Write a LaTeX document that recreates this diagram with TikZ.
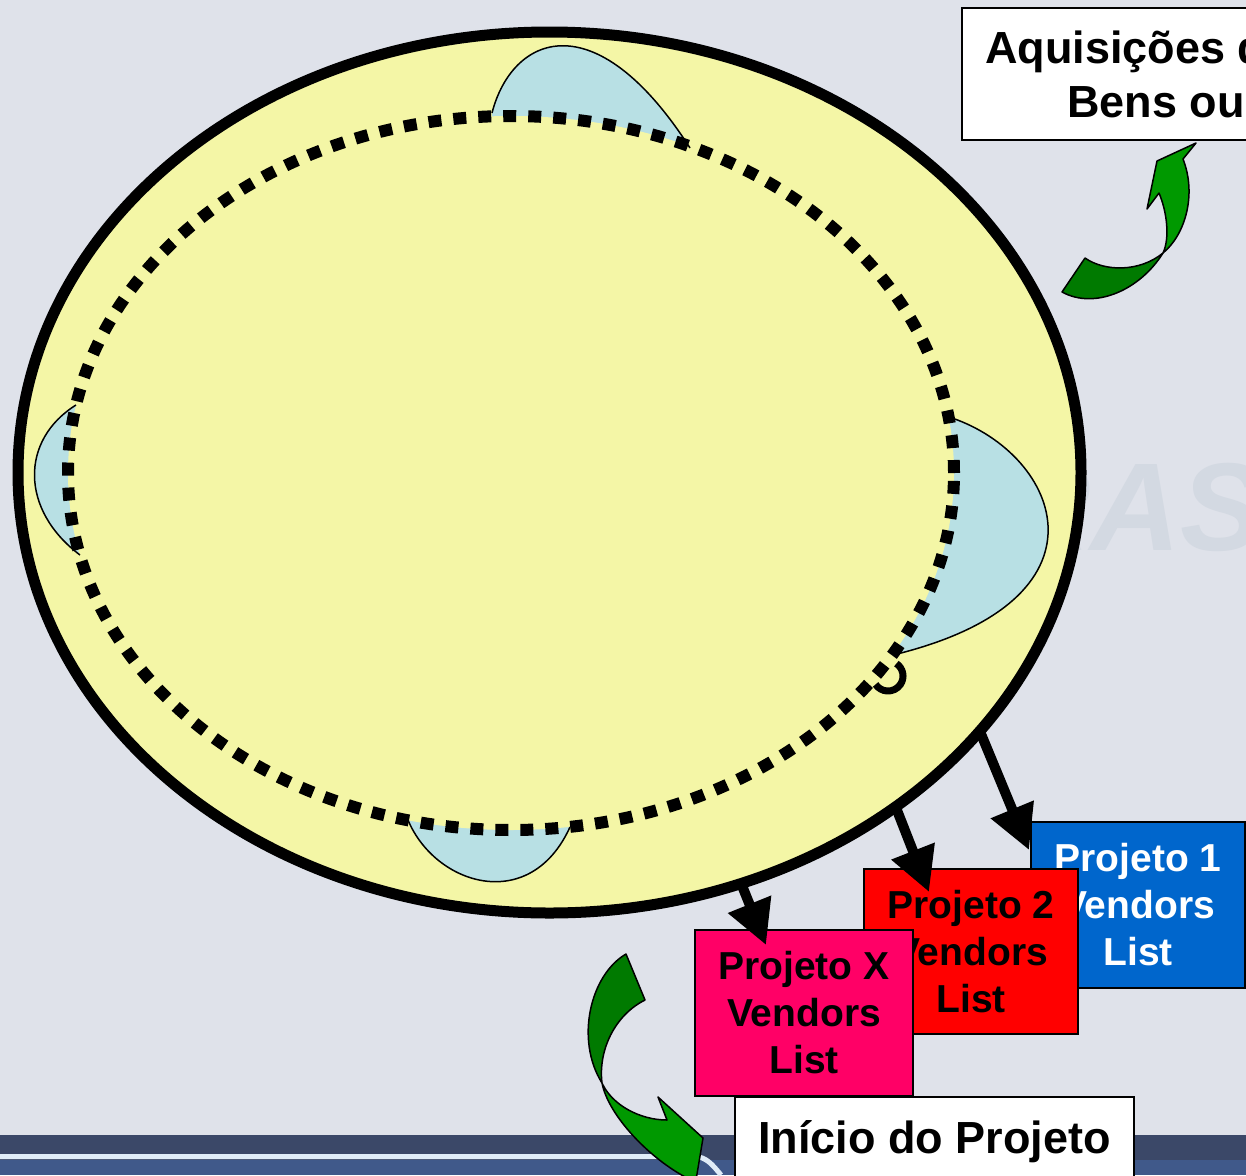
\documentclass[tikz,border=0pt]{standalone}
\usepackage{fontspec}
\setmainfont{Liberation Sans}
\usepackage{tikz}
\usetikzlibrary{arrows.meta,shapes.geometric}
\definecolor{slidebg}{HTML}{DFE2EA}
\definecolor{banddark}{HTML}{3B4868}
\definecolor{bandblue}{HTML}{40598A}
\definecolor{bandline}{HTML}{E0ECF8}
\definecolor{watermark}{HTML}{D3D9E2}
\definecolor{cycleyellow}{HTML}{F4F6A6}
\definecolor{lobeblue}{HTML}{B8E0E4}
\definecolor{arrowgreen}{HTML}{009900}
\definecolor{arrowdark}{HTML}{007A00}
\definecolor{projblue}{HTML}{0066CC}
\definecolor{projred}{HTML}{FF0000}
\definecolor{projpink}{HTML}{FF0066}
\tikzstyle{vendorbox} = [rectangle, draw, line width=2pt, anchor=north west, align=center, inner sep=0pt, outer sep=0pt, font=\fontsize{39}{47}\selectfont\bfseries]
\tikzstyle{labelbox} = [rectangle, draw, fill=white, line width=2pt, anchor=north west, inner sep=0pt, outer sep=0pt]
\tikzstyle{labeltext} = [anchor=base west, inner sep=0pt, font=\fontsize{45}{53}\selectfont\bfseries]
\tikzstyle{bigarrow} = [line width=10pt, -{Triangle[length=44pt,width=44pt]}]
\tikzstyle{greenpart} = [draw=black, line width=1.5pt, line join=round]

\begin{document}
\begin{tikzpicture}[x=1pt,y=-1pt]
  \useasboundingbox (0,0) rectangle (1246,1175);
  \clip (0,0) rectangle (1246,1175);
  % slide background
  \fill[slidebg] (0,0) rectangle (1246,1175);
  \fill[banddark] (0,1135) rectangle (1246,1175);
  \fill[bandblue] (0,1160) rectangle (1246,1175);
  \draw[bandline, line width=5pt] (0,1156.5) -- (695,1156.5) .. controls (706,1157) and (712,1164) .. (721,1175);
  \draw (1000,550) node[anchor=base west, inner sep=0pt, text=watermark, font=\fontsize{125}{125}\selectfont\bfseries\itshape] (wm) {RAS};

  % the cycle
  \draw (549.5,472.5) node[ellipse, draw, fill=cycleyellow, line width=11pt, minimum width=1063pt, minimum height=881pt, inner sep=0pt, outer sep=0pt] (cyc) {};
  \fill[lobeblue] (492,113) .. controls (512,35) and (595,0) .. (690,148) -- (511,473) -- cycle;
  \fill[lobeblue] (76,405) .. controls (20,440) and (20,510) .. (80,555) -- (511,473) -- cycle;
  \fill[lobeblue] (952,418) .. controls (1060,455) and (1120,600) .. (893,655) -- (511,473) -- cycle;
  \fill[lobeblue] (408,820) .. controls (435,885) and (530,915) .. (570,827) -- (511,473) -- cycle;
  \fill[cycleyellow] (511,473) ellipse [x radius=443pt, y radius=357pt];
  \draw[line width=1.5pt] (492,113) .. controls (512,35) and (595,0) .. (690,148);
  \draw[line width=1.5pt] (76,405) .. controls (20,440) and (20,510) .. (80,555);
  \draw[line width=1.5pt] (952,418) .. controls (1060,455) and (1120,600) .. (893,655);
  \draw[line width=1.5pt] (408,820) .. controls (435,885) and (530,915) .. (570,827);
  \draw[line width=12pt, dash pattern=on 13pt off 12pt] (511,473) ellipse [x radius=443pt, y radius=357pt];
  \draw[line width=7pt] (888,676) ++(-56:15) arc[start angle=-56, end angle=146, radius=15];

  % vendor lists
  \draw (1031,822) node[vendorbox, fill=projblue, text=white, minimum width=214pt, minimum height=166pt] (p1) {Projeto 1\\Vendors\\List};
  \draw (864,869) node[vendorbox, fill=projred, minimum width=214pt, minimum height=165pt] (p2) {Projeto 2\\Vendors\\List};
  \draw (695,930) node[vendorbox, fill=projpink, minimum width=218pt, minimum height=166pt] (px) {Projeto X\\Vendors\\List};
  \path[bigarrow] (cyc.-31.7) edge ([shift={(-2,28)}]p1.north west);
  \path[bigarrow] (cyc.-44.3) edge ([shift={(65,23)}]p2.north west);
  \path[bigarrow] (cyc.-65.3) edge ([shift={(71,15)}]px.north west);

  % labels
  \draw (962,8) node[labelbox, minimum width=400pt, minimum height=132pt] (acq) {};
  \draw ([shift={(23,55)}]acq.north west) node[labeltext] (acq1) {Aquisições de};
  \draw ([shift={(105,109)}]acq.north west) node[labeltext] (acq2) {Bens ou};
  \draw (735,1097) node[labelbox, minimum width=399pt, minimum height=89pt, text height=33pt, text depth=10pt, font=\fontsize{45}{53}\selectfont\bfseries] (start) {Início do Projeto};

  % curved arrows
  \filldraw[greenpart, fill=arrowdark] (1085,258) .. controls (1105,272) and (1140,272) .. (1163,253) .. controls (1140,290) and (1095,310) .. (1062,292) -- cycle;
  \filldraw[greenpart, fill=arrowgreen] (1183,159) -- (1196,143) -- (1157,161) -- (1147,209) -- (1159,193) .. controls (1167,212) and (1170,238) .. (1163,253) .. controls (1185,235) and (1197,195) .. (1183,159) -- cycle;
  \filldraw[greenpart, fill=arrowdark] (626,954) .. controls (590,975) and (575,1040) .. (602,1083) .. controls (598,1050) and (615,1015) .. (645,1000) -- cycle;
  \filldraw[greenpart, fill=arrowgreen] (602,1083) .. controls (612,1105) and (640,1120) .. (667,1120) -- (658,1097) -- (703,1138) -- (694,1192) -- (691,1180) .. controls (650,1160) and (608,1115) .. (602,1083) -- cycle;
\end{tikzpicture}
\end{document}
